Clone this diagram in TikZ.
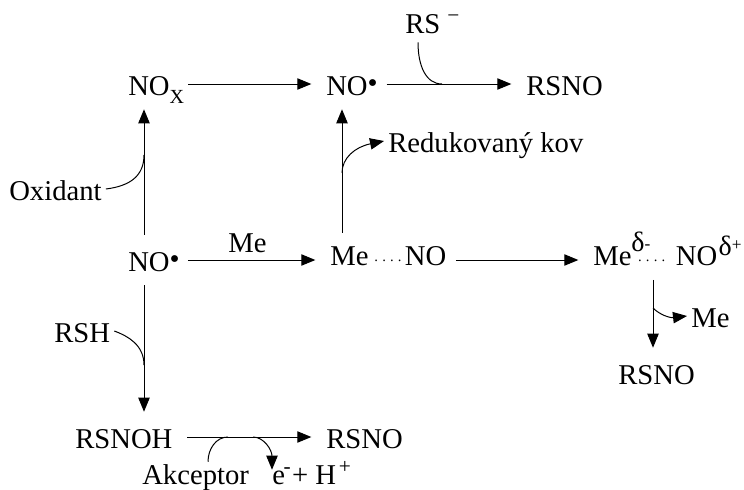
\documentclass[tikz,border=0pt]{standalone}
\usepackage{fontspec}
\usepackage{tikz}
\usetikzlibrary{arrows.meta}
\setmainfont{Liberation Serif}
\newcommand{\nodot}{\raisebox{1.6pt}{\textbullet}}
\newcommand{\bonddots}{\raisebox{3pt}{\fontsize{11}{11}\selectfont .\hspace{3.1pt}.\hspace{3.1pt}.\hspace{3.1pt}.}}
\newcommand{\supertext}[2][16]{\raisebox{8pt}{\fontsize{#1}{#1}\selectfont #2}}
\newcommand{\deltaup}[1]{\raisebox{#1}{\fontsize{21}{21}\selectfont δ}}
\tikzset{
  chem/.style={inner xsep=3pt, inner ysep=0pt, text height=27pt, text depth=10.5pt, anchor=base west, font=\fontsize{21.5}{24}\selectfont},
  chemlow/.style={chem, text height=24pt, text depth=11pt},
  chembot/.style={chem, text depth=4.5pt},
  rxn/.style={-{Triangle[length=10.5pt,width=8.5pt]}, line width=0.75pt, shorten >=8pt},
  branch/.style={line width=0.75pt},
  branchtip/.style={-{Triangle[length=10.5pt,width=8.5pt]}, line width=0.75pt}
}
\begin{document}
\begin{tikzpicture}[x=0.75pt,y=-0.75pt]
            \useasboundingbox (0,0) rectangle (744,490);
            % columns
            \coordinate (colA) at (144,0);
            \coordinate (colB) at (342,0);
            \coordinate (colC) at (653,0);
            \coordinate (colRS) at (418,0);
            \coordinate (colAkc) at (208,0);
            \coordinate (colE) at (272,0);
            % top row
            \node (nox) at (124,95) [chem] {NO\raisebox{-6pt}{\fontsize{15}{15}\selectfont X}};
            \node (notop) at (322,95) [chem] {NO\nodot};
            \node (rsnotop) at (522,95) [chem] {RSNO};
            \node (rs) at (401,33) [chem, text depth=6.75pt] {RS \supertext{\textminus}};
            \node (redkov) at (384,152) [chem] {Redukovaný kov};
            % middle row
            \node (oxidant) at (5,200) [chem] {Oxidant};
            \node (nomid) at (124,271) [chem] {NO\nodot};
            \node (melabel) at (224,252) [chem] {Me};
            \node (meno) at (326,265) [chemlow] {Me\hspace{4.5pt}\bonddots\hspace{2.5pt}NO};
            \node (meion) at (589,265) [chemlow] {Me\deltaup{10pt}\raisebox{12pt}{\fontsize{13}{13}\selectfont -}\hspace{-9.2pt}\bonddots\hspace{8pt}NO\hspace{1pt}\deltaup{7.5pt}\raisebox{11pt}{\fontsize{13}{13}\selectfont +}};
            % right column
            \node (meout) at (687,327) [chem] {Me};
            \node (rsnoright) at (614,384) [chem] {RSNO};
            % bottom
            \node (rsh) at (50,342) [chem] {RSH};
            \node (rsnoh) at (71,448) [chem] {RSNOH};
            \node (rsnobot) at (322,448) [chem] {RSNO};
            \node (akceptor) at (138,484) [chembot, text height=16.5pt] {Akceptor};
            \node (eplus) at (268,484) [chembot, text height=10.5pt] {e\supertext{\hspace{-1pt}-}\hspace{1pt}+ H\supertext{\hspace{2pt}+}};
            % points on the arrows
            \coordinate (oxjoin) at (144,155);
            \coordinate (redjoin) at (342,173);
            \coordinate (rsjoin) at (442,84);
            \coordinate (rshjoin) at (144,365);
            \coordinate (akcjoin) at (228,437);
            \coordinate (ejoin) at (253,437);
            \coordinate (mejoin) at (653,308);
            % main arrows
            \draw[rxn] (nox.east) -- (notop.west);
            \draw[rxn, shorten <=3.5pt] (notop.east) -- (rsnotop.west);
            \draw[rxn, shorten <=3pt] (nomid.east) -- (nomid -| meno.west);
            \draw[rxn, shorten <=4pt] (meno.east |- nomid) -- (nomid -| meion.west);
            \draw[rxn, shorten <=8pt] (rsnoh.east) -- (rsnobot.west);
            \draw[rxn, shorten >=0pt] (colA |- nomid.north) -- (colA |- nox.south);
            \draw[rxn, shorten >=0pt] (colB |- meno.north) -- (colB |- notop.south);
            \draw[rxn, shorten >=0pt] (colA |- nomid.south) -- (colA |- rsnoh.north);
            \draw[rxn, shorten >=0pt] (colC |- meion.south) -- (colC |- rsnoright.north);
            % side branches
            \draw[branch] (oxidant.east) .. controls (130,186) and (144,176) .. (oxjoin);
            \draw[branch] (colRS |- rs.south) .. controls (418,66) and (426,84) .. (rsjoin);
            \draw[branch] (rsh.east) .. controls (128,336) and (144,345) .. (rshjoin);
            \draw[branch] (colAkc |- akceptor.north) .. controls (208,449) and (216,437) .. (akcjoin);
            \draw[branchtip] (redjoin) .. controls (342,158) and (355,147) .. (redkov.west);
            \draw[branchtip] (mejoin) .. controls (660,315) and (670,318) .. (meout.west);
            \draw[branchtip] (ejoin) .. controls (264,437) and (272,450) .. (colE |- eplus.north);
        \end{tikzpicture}
\end{document}
